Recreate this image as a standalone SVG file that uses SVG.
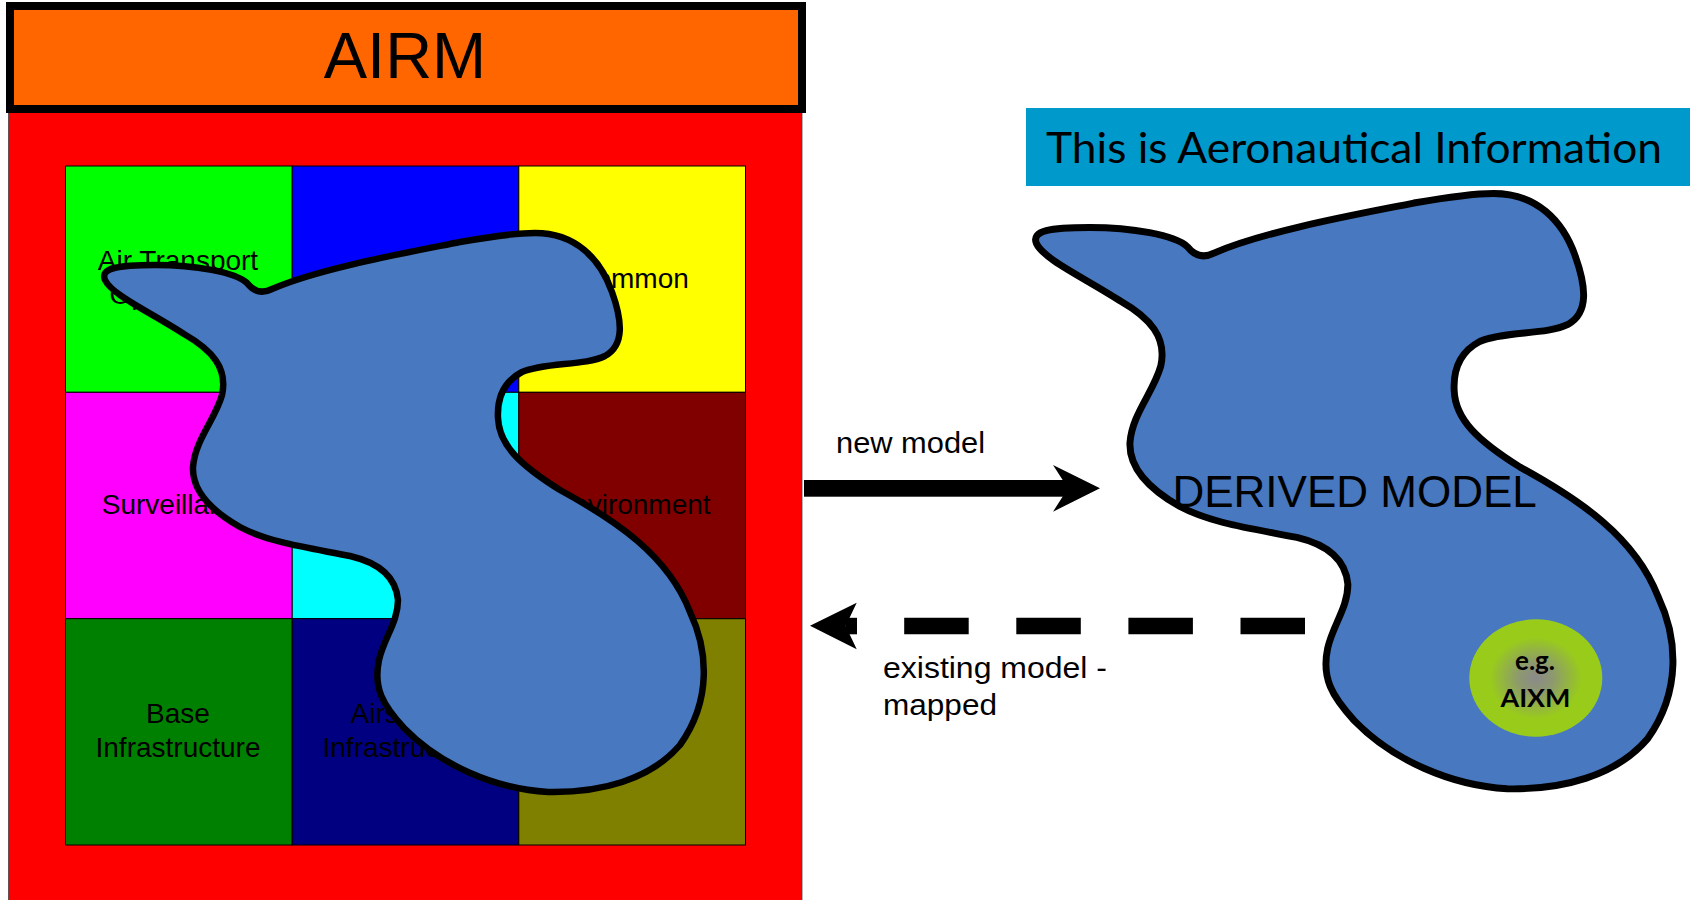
<svg xmlns="http://www.w3.org/2000/svg" xmlns:xlink="http://www.w3.org/1999/xlink" width="1690" height="900" viewBox="0 0 1690 900">
  <style>
    .cell { stroke: #000; stroke-width: 1; }
    .lbl { font-family: "Liberation Sans", Arial, sans-serif; font-size: 28px; fill: #000; text-anchor: middle; }
    .arial { font-family: "Liberation Sans", Arial, sans-serif; fill: #000; }
    .calibri { font-family: Lato, "Open Sans", sans-serif; fill: #000; }
    .blob { fill: #4878BF; stroke: #000; stroke-width: 6.5; stroke-linejoin: round; }
  </style>
  <defs>
    <!-- free-form cloud shape, reused for both models -->
    <path id="blob-shape" d="M 105,280
      C 100,268 118,265 155,265
      C 195,265 235,272 247,283
      C 254,292 262,294 272,289
      C 320,268 410,252 460,242
      C 500,235 520,233 535,233
      C 575,233 600,258 612,292
      C 622,320 625,345 605,356
      C 585,366 545,362 522,372
      C 503,382 497,398 498,418
      C 499,445 520,465 560,490
      C 615,520 668,555 690,612
      C 708,650 712,700 680,745
      C 650,780 600,793 548,792
      C 495,789 440,765 404,728
      C 383,705 373,688 379,660
      C 384,638 398,622 398,600
      C 396,578 380,563 350,556
      C 310,548 270,543 240,527
      C 210,510 192,490 193,467
      C 195,440 215,420 222,395
      C 228,368 212,350 184,334
      C 150,312 112,295 105,280 Z"/>
    <radialGradient id="aixm-fill" cx="0.5" cy="0.5" r="0.5">
      <stop offset="0" stop-color="#8a8a8a"/>
      <stop offset="0.25" stop-color="#8d9870"/>
      <stop offset="0.7" stop-color="#99CC1A"/>
      <stop offset="1" stop-color="#99CC1A"/>
    </radialGradient>
  </defs>

  <rect width="1690" height="900" fill="#fff"/>

  <!-- AIRM panel -->
  <g id="airm">
    <rect x="8.5" y="110" width="793.5" height="795" fill="#FF0000" stroke="#444" stroke-width="0.8"/>
    <rect x="10" y="6" width="792" height="103" fill="#FF6600" stroke="#000" stroke-width="8"/>
    <text class="arial" x="405" y="78" font-size="65" text-anchor="middle">AIRM</text>

    <g id="airm-grid">
      <rect class="cell" x="65.5" y="166" width="226.7" height="226.3" fill="#00FF00"/>
      <rect class="cell" x="292.2" y="166" width="226.6" height="226.3" fill="#0000FF"/>
      <rect class="cell" x="518.8" y="166" width="226.7" height="226.3" fill="#FFFF00"/>
      <rect class="cell" x="65.5" y="392.3" width="226.7" height="226.4" fill="#FF00FF"/>
      <rect class="cell" x="292.2" y="392.3" width="226.6" height="226.4" fill="#00FFFF"/>
      <rect class="cell" x="518.8" y="392.3" width="226.7" height="226.4" fill="#800000"/>
      <rect class="cell" x="65.5" y="618.7" width="226.7" height="226.3" fill="#008000"/>
      <rect class="cell" x="292.2" y="618.7" width="226.6" height="226.3" fill="#000080"/>
      <rect class="cell" x="518.8" y="618.7" width="226.7" height="226.3" fill="#808000"/>

      <text class="lbl" x="178" y="270">Air Transport</text>
      <text class="lbl" x="178" y="304">Operations</text>
      <text class="lbl" x="632" y="288">Common</text>
      <text class="lbl" x="178" y="514">Surveillance</text>
      <text class="lbl" x="632" y="514">Environment</text>
      <text class="lbl" x="178" y="723">Base</text>
      <text class="lbl" x="178" y="757">Infrastructure</text>
      <text class="lbl" x="405" y="723">Airspace</text>
      <text class="lbl" x="405" y="757">Infrastructure</text>
    </g>

    <use xlink:href="#blob-shape" href="#blob-shape" class="blob"/>
  </g>

  <!-- banner -->
  <g id="aero-info">
    <rect x="1026" y="108" width="664" height="78" fill="#0099CC"/>
    <text class="calibri" x="1046" y="163" font-size="42" textLength="616" lengthAdjust="spacingAndGlyphs">This is Aeronautical Information</text>
  </g>

  <!-- derived model -->
  <g id="derived-model">
    <use xlink:href="#blob-shape" href="#blob-shape" class="blob" transform="matrix(1.063 0 0 1.065 924.8 -54.7)"/>
    <text class="arial" x="1354.6" y="506.5" font-size="44" text-anchor="middle">DERIVED MODEL</text>
    <g id="aixm">
      <ellipse cx="1535.8" cy="678" rx="66.5" ry="58.7" fill="url(#aixm-fill)"/>
      <text class="calibri" x="1535" y="670" font-size="26" font-weight="bold" text-anchor="middle">e.g.</text>
      <text class="calibri" x="1535.5" y="707" font-size="25" font-weight="bold" text-anchor="middle" textLength="70" lengthAdjust="spacingAndGlyphs">AIXM</text>
    </g>
  </g>

  <!-- connectors -->
  <g id="connectors" fill="#000">
    <g id="new-model">
      <rect x="804" y="480" width="264" height="16.7"/>
      <polygon points="1053,465 1100,488.3 1053,511.7 1068,488.3"/>
      <text class="arial" x="836" y="453" font-size="29" textLength="149" lengthAdjust="spacingAndGlyphs">new model</text>
    </g>
    <g id="existing-model">
      <line x1="1305" y1="626" x2="904" y2="626" stroke="#000" stroke-width="16.5" stroke-dasharray="64.5 47.6"/>
      <rect x="846" y="617.8" width="11" height="16.5"/>
      <polygon points="856.7,602.7 810,625.8 856.7,649.3 845.7,626"/>
      <text class="arial" x="883" y="678" font-size="30" textLength="224" lengthAdjust="spacingAndGlyphs">existing model -</text>
      <text class="arial" x="883" y="715" font-size="30" textLength="114" lengthAdjust="spacingAndGlyphs">mapped</text>
    </g>
  </g>
</svg>
